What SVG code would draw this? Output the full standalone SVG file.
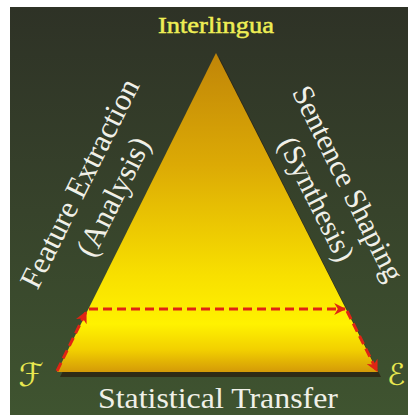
<svg xmlns="http://www.w3.org/2000/svg" width="408" height="415" viewBox="0 0 408 415">
<defs>
<linearGradient id="bg" x1="0" y1="0" x2="0" y2="1">
<stop offset="0" stop-color="#2e3226"/>
<stop offset="0.5" stop-color="#37432b"/>
<stop offset="1" stop-color="#3f5430"/>
</linearGradient>
<linearGradient id="tri" gradientUnits="userSpaceOnUse" x1="0" y1="53" x2="0" y2="372">
<stop offset="0" stop-color="#c08508"/>
<stop offset="0.35" stop-color="#dcaa05"/>
<stop offset="0.7" stop-color="#f8e000"/>
<stop offset="0.85" stop-color="#fff200"/>
<stop offset="0.93" stop-color="#f2d000"/>
<stop offset="1" stop-color="#d49a08"/>
</linearGradient>
<marker id="ah" viewBox="0 0 10 10" refX="9" refY="5" markerWidth="4" markerHeight="4" orient="auto" markerUnits="strokeWidth">
<path d="M0,0 L10,5 L0,10 L3,5 Z" fill="#e02414"/>
</marker>
<style>
.lbl{font-family:"Liberation Serif","DejaVu Serif",serif;fill:#f0f0e8}
.yel{font-family:"Liberation Serif","DejaVu Serif",serif;fill:#eeee55}
.scr{font-family:"DejaVu Serif","DejaVu Sans",serif;fill:#e8e850;font-style:italic}
.dash{fill:none;stroke:#e02414;stroke-width:3;stroke-dasharray:9 5;marker-end:url(#ah)}
</style>
</defs>
<rect x="0" y="0" width="408" height="415" fill="#ffffff"/>
<rect x="10" y="7" width="398" height="408" fill="url(#bg)"/>
<g id="triangle">
<polygon points="219,57 381,377 60,377" fill="#2a2212" opacity="0.8"/>
<polygon points="216,53 378,372 57,372" fill="url(#tri)"/>
</g>
<g id="interlingua"><text class="yel" x="216" y="33" font-size="23" stroke="#eeee55" stroke-width="0.5" text-anchor="middle" textLength="116" lengthAdjust="spacingAndGlyphs">Interlingua</text></g>
<g id="transfer"><text class="lbl" x="218" y="408" font-size="30" text-anchor="middle" textLength="240" lengthAdjust="spacingAndGlyphs">Statistical Transfer</text></g>
<g id="F"><text class="scr" x="31" y="386" font-size="32" text-anchor="middle">ℱ</text></g>
<g id="E"><text class="scr" x="396" y="385" font-size="30" text-anchor="middle">ℰ</text></g>
<g id="analysis" transform="translate(79,183) rotate(-63.5)">
<text class="lbl" x="0" y="11" font-size="31" text-anchor="middle">Feature Extraction</text>
<text class="lbl" x="3" y="47" font-size="31" text-anchor="middle">(Analysis)</text>
</g>
<g id="synthesis" transform="translate(349,183) rotate(63.5)">
<text class="lbl" x="0" y="11" font-size="30" text-anchor="middle">Sentence Shaping</text>
<text class="lbl" x="0" y="46" font-size="30" text-anchor="middle">(Synthesis)</text>
</g>
<g id="connectors">
<path class="dash" d="M57,371 L86,312"/>
<path class="dash" d="M89,309 L345,309"/>
<path class="dash" d="M347,311 L377,371"/>
</g>
</svg>
